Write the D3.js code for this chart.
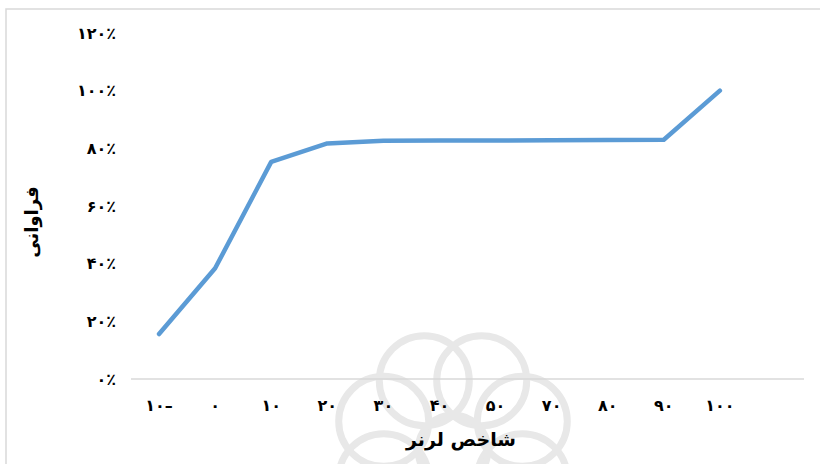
<!DOCTYPE html>
<html>
<head>
<meta charset="utf-8">
<script src="https://cdn.jsdelivr.net/npm/d3@7"></script>
<style>
  body { margin: 0; background: #fff; }
  text { font-family: "DejaVu Sans", sans-serif; }
</style>
</head>
<body>
<svg id="canvas" width="820" height="464"></svg>
<script>
// categories on the x axis (last slot is empty in the original)
let categories = ['-10', '0', '10', '20', '30', '40', '50', '70', '80', '90', '100', '']
let categoryLabels = ['۱۰–', '۰', '۱۰', '۲۰', '۳۰', '۴۰', '۵۰', '۷۰', '۸۰', '۹۰', '۱۰۰', '']
// cumulative frequency, in %
let frequency = [15.6, 38.4, 75.3, 81.7, 82.6, 82.7, 82.7, 82.8, 82.9, 83.0, 100]
let yTicks = [0, 20, 40, 60, 80, 100, 120]
let yTickLabels = ['۰٪', '۲۰٪', '۴۰٪', '۶۰٪', '۸۰٪', '۱۰۰٪', '۱۲۰٪']

let canvas = d3.select('#canvas')

// outer frame of the chart (only top and left edges show in the picture)
canvas.append('path')
    .attr('d', 'M6,464 L6,9 L820,9')
    .attr('fill', 'none')
    .attr('stroke', '#d9d9d9')
    .attr('stroke-width', 1.5)

// faint watermark behind the bottom of the chart
let wm = canvas.append('g')
    .attr('transform', 'translate(453, 450)')
    .attr('fill', 'none')
    .attr('stroke', '#e8e8e8')
    .attr('stroke-width', 7)
d3.range(8).forEach((i) => {
    let a = i * Math.PI / 4 + Math.PI / 8
    wm.append('circle')
        .attr('cx', Math.cos(a) * 75)
        .attr('cy', Math.sin(a) * 75)
        .attr('r', 45)
})
wm.append('circle').attr('r', 35)

let x = d3.scaleBand()
    .domain(categories)
    .range([131, 804])

let y = d3.scaleLinear()
    .domain([0, 120])
    .range([379, 33])

// y tick labels
canvas.selectAll('.ylab')
    .data(yTicks)
    .enter()
    .append('text')
    .attr('class', 'ylab')
    .attr('x', 116)
    .attr('y', (d) => y(d))
    .attr('dy', '0.35em')
    .attr('text-anchor', 'end')
    .attr('direction', 'ltr')
    .attr('font-size', 16)
    .attr('font-weight', 'bold')
    .text((d, i) => yTickLabels[i])

// baseline
canvas.append('line')
    .attr('x1', 131)
    .attr('x2', 804)
    .attr('y1', y(0))
    .attr('y2', y(0))
    .attr('stroke', '#d9d9d9')
    .attr('stroke-width', 1.5)

// x tick labels
canvas.selectAll('.xlab')
    .data(categories)
    .enter()
    .append('text')
    .attr('class', 'xlab')
    .attr('x', (d) => x(d) + x.bandwidth() / 2)
    .attr('y', 411)
    .attr('text-anchor', 'middle')
    .attr('direction', 'ltr')
    .attr('font-size', 16)
    .attr('font-weight', 'bold')
    .text((d, i) => categoryLabels[i])

// the line
let line = d3.line()
    .x((d, i) => x(categories[i]) + x.bandwidth() / 2)
    .y((d) => y(d))

canvas.append('path')
    .datum(frequency)
    .attr('d', line)
    .attr('fill', 'none')
    .attr('stroke', '#5b9bd5')
    .attr('stroke-width', 4.5)
    .attr('stroke-linecap', 'round')
    .attr('stroke-linejoin', 'round')

// axis titles
canvas.append('text')
    .attr('x', 461)
    .attr('y', 446)
    .attr('text-anchor', 'middle')
    .attr('font-size', 19)
    .attr('font-weight', 'bold')
    .text('شاخص لرنر')

canvas.append('text')
    .attr('transform', 'translate(32, 222) rotate(-90)')
    .attr('text-anchor', 'middle')
    .attr('dy', '0.35em')
    .attr('font-size', 18)
    .attr('font-weight', 'bold')
    .text('فراوانی')
</script>
</body>
</html>
